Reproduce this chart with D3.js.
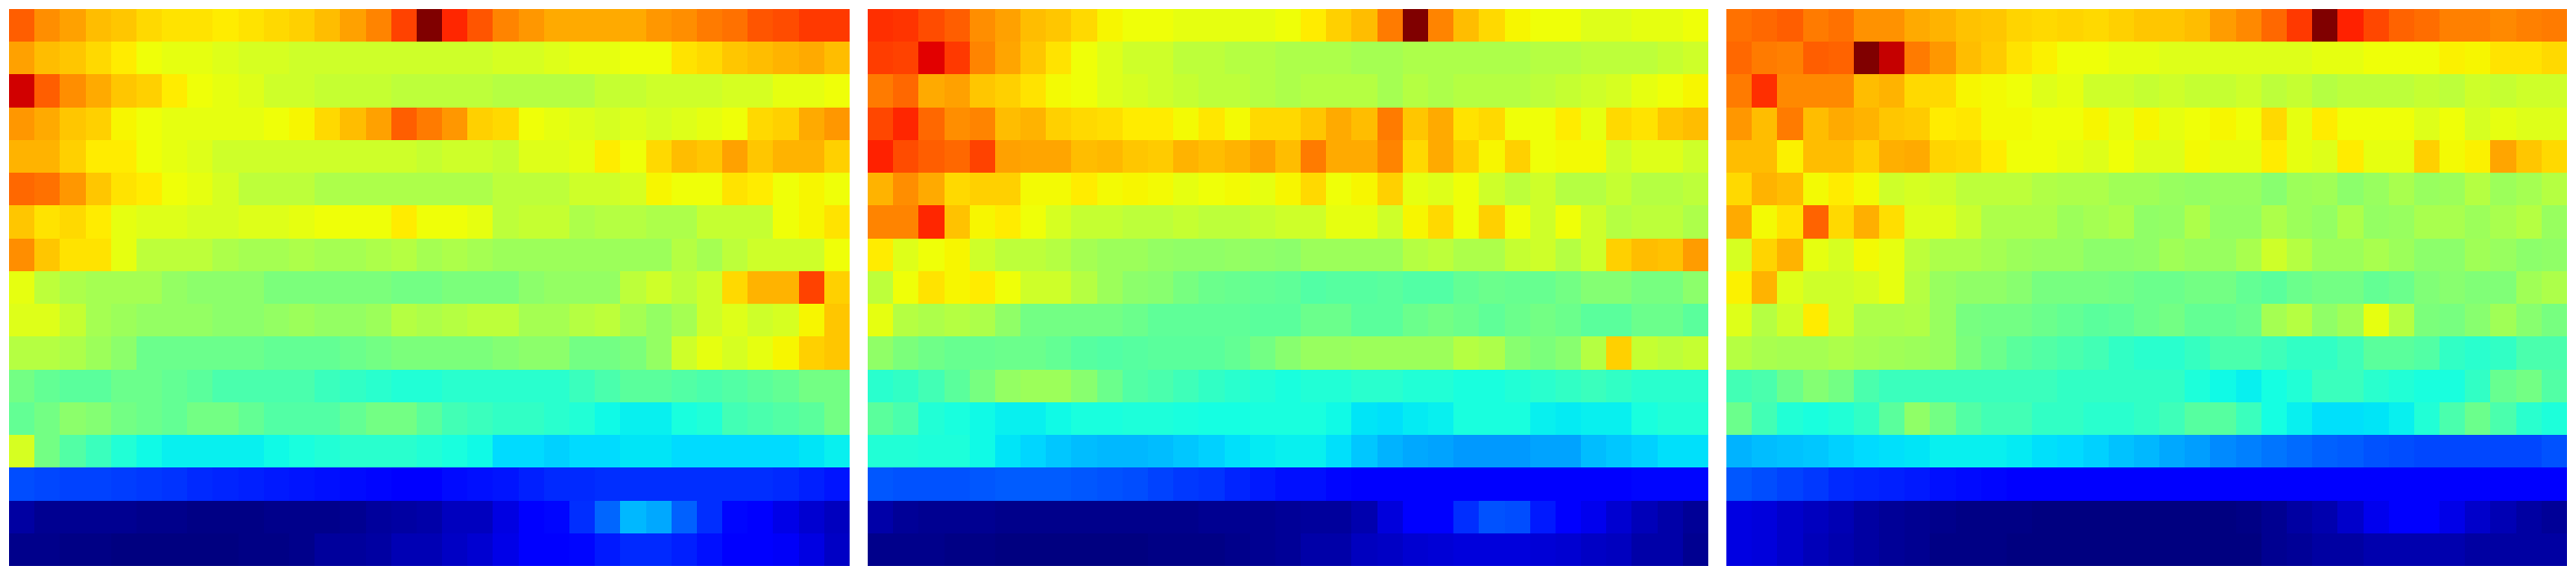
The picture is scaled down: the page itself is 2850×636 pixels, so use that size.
<!DOCTYPE html>
<html>
<head>
<meta charset="utf-8">
<script src="https://cdn.jsdelivr.net/npm/d3@7/dist/d3.min.js"></script>
<style>html,body{margin:0;padding:0;background:#fff}svg{display:block}</style>
</head>
<body>
<svg id="chart" width="2850" height="636"></svg>
<script>
const panelA = [
[81,76,74,71,70,68,67,67,66,67,68,69,71,74,77,84,100,87,82,77,75,73,73,73,73,75,76,78,79,82,83,85,85],
[74,71,70,68,66,64,63,63,62,61,61,60,60,60,60,60,60,60,60,61,61,62,63,63,64,64,67,68,70,71,72,73,71],
[93,81,76,73,70,69,66,64,63,62,60,60,59,59,59,58,58,58,58,57,57,57,57,59,59,60,60,60,61,61,63,63,64],
[75,73,70,69,65,64,63,63,63,63,64,65,68,71,74,81,78,75,69,68,64,63,62,61,62,61,62,63,64,68,69,73,75],
[72,72,69,66,66,64,63,62,60,60,60,60,60,60,60,60,59,60,60,59,62,62,63,66,64,68,71,70,74,70,72,72,69],
[80,79,75,70,67,66,64,63,61,58,58,58,56,56,56,56,56,56,56,58,58,58,60,60,61,65,64,64,67,66,64,65,64],
[70,67,68,66,63,62,62,61,61,62,62,63,64,64,64,66,64,64,63,58,59,59,56,57,57,56,56,59,59,59,64,65,67],
[76,70,67,67,63,58,58,58,56,55,55,56,55,55,56,57,55,56,55,54,54,54,54,54,54,54,57,55,58,60,60,60,64],
[63,58,56,55,55,55,53,52,52,52,50,50,50,50,50,49,49,50,50,50,52,53,53,53,58,60,58,60,68,72,72,84,69],
[62,62,59,55,54,53,53,53,52,52,53,54,53,53,54,57,56,57,58,58,55,55,57,58,55,53,55,60,62,60,61,65,70],
[57,57,56,54,52,48,48,48,48,48,47,47,47,48,49,50,50,50,50,51,52,52,49,49,50,53,60,63,61,63,65,69,70],
[49,47,46,46,48,48,47,46,44,44,44,44,42,41,40,39,39,40,40,40,40,40,42,44,46,46,45,44,45,46,47,49,49],
[47,49,52,51,49,48,47,49,49,47,45,45,45,47,49,49,46,43,42,41,41,40,39,37,36,36,38,39,43,44,45,46,49],
[61,49,45,42,39,37,36,36,36,36,37,38,39,40,40,40,39,38,37,34,34,33,34,34,35,35,34,34,34,34,34,35,36],
[20,19.5,19,19,18.5,18,17.5,16.5,16,15.5,15,14.5,14,13.5,13,12.5,12.5,13.5,14,14.5,15.5,16.5,16.5,17,17,17,17,17,17,17,16.5,15.5,14.5],
[3,1.5,1.5,1.5,1.5,1,1,0.5,0.5,0.5,1,1,1,1.5,2.5,3,3.5,5.5,5.5,8.5,11,13,17,22.5,30.5,29,22,17,13,11.5,9,7,5.5],
[1,1,0.5,0.5,0,0,0,0,0,0.5,0.5,1,2.5,2.5,3,4.5,4.5,6,7,9,11,12,13,15,16.5,16.5,15.5,14,12.5,12,10.5,8.5,6]
];
const panelB = [
[86,85.5,83,81,76,74,71,70,68,65,64,64,63,63,63,63,64,66,69,71,78,100,77,71,68,65,64,64,62,62,63,63,64],
[84.5,84,91.5,85,77,73.5,70,67,64,62,60,60,58,58,57,57,56,56,56,55,55,56,56,56,56,56,57,57,58,58,58,59,60],
[78,80,73,74,70,69,67,64.5,64,62,61,60,59,58,58,57,56,57,57,57,55,57,56,57,57,57,58,59,60,61,63,64,65],
[83.5,87,80,76,77,71,72,69,68,67.5,66,66,64.5,66.5,64.5,68,68,70,73,71,78,70,73,67,68,64,64,66,63,68,67,70,71],
[87.5,83,81,80,84,74,73.5,73.5,71,71.5,70,69.5,72,71,72,74,71,78,73,73,77,68,73,69,65,69,64,64.5,64.5,60,62,62,60],
[72,76,73,68,69,69,64.5,64.5,66,64.5,65,64.5,63,64,64.5,63,65,68,64,65,69,63,62,64,60,58,60,57,57,59,57,57,58],
[77,77,87,70.5,65,66,64,61,59,59,58,58,59,58,58,59,60,60,63,63,60,65,68,64,69,64,60,64,60,57,58,58,56],
[66,62,64,65,60,58,58,57,55,54,54,53,52.5,52.5,53,52.5,52,54,54,54,54,57,58,56,56,59,60,57,60,69,71,70.5,74.5],
[58,64,67,65,66,64,60,60,57,54,52,51.5,49.5,48,47.5,47,46.5,45,45.5,45.5,46,45,45,47,48,47.5,47.5,49,51,51,49.5,49.5,52],
[63,57,56,57,56,52.5,49,49,49,49,48,46.5,46.5,46.5,46.5,46,46,48,48,46,46,48,49,48,46.5,48,49,48,46,46,48,48,46],
[52.5,50,48.5,47.5,47.5,48,48,47,45.5,45,45.5,46,46,46,47,49,51.5,53.5,53.5,54,54,54,54,57,56,51.5,50,51.5,57,69,59,58,59],
[40,41,43,46,49.5,53,54,54,51.5,48,45,44,42.5,41,40,39,38,39,39,40,40,39,39,38,38,39,40,41,42,41,40,40,40],
[46,44,39,38,37,36,36,37,38,38,38.5,38.5,38,37.5,37.5,38,38,38,37,35,34.5,35.5,36,38,38,38,36,35.5,36,36,38,39,39],
[39,39,38.5,38.5,37,35,33.5,32,31,30.5,30.5,31,32,33,34.5,35.5,36,36,34.5,32,30,29,28.5,27.5,27.5,27.5,28.5,28.5,31,32,33,34.5,34.5],
[21,20.5,20.5,20.5,21,21.5,21.5,21.5,21,20.5,20,19,18,17.5,16,15,14,14,13,12.5,12,12,12,12,12,12,12,12,12,12.5,13,13,13],
[3.5,2,1.5,1.5,1.5,1,1,1,1,1,1,1,1,1.5,1.5,1.5,2,2.5,2.5,4,8,11,12,17,20.5,20,15,12,9.5,7,5,3.5,2],
[1,1,1,0.5,0.5,0,0,0,0,0,0,0.5,0.5,0.5,1,1.5,2,3.5,3.5,5.5,6,7,7.5,8,8,8,7.5,7,6,5.5,3.5,3.5,1.5]
];
const panelC = [
[79,80,81,78,79,75.5,75.5,73,72,70.5,70,68.5,68,68.5,68,69,70,70,71,74.5,76.5,80,85,100,87.5,83.5,80.5,79.5,77.5,77.5,76.5,77.5,78],
[80,78,77.5,81,80.5,100,94,78,75,71,69.5,67,65.5,64,64,63,63,62,62,62,62,62,62,63,63,64,64,64,65.5,65,67,67,68],
[78,86,76.5,76.5,76.5,71,72,68,68,65,64.5,64,62,63,60,60,59,60,59,59,60,58,59,57,58,58,58,59,58,60,59,60,60],
[75,71,78,71,73,72,70,69.5,66,66.5,64.5,64.5,64,64,65,63,65,63,64,65,64,68,63,66,64,64,64,62,64,61,63,62,62],
[71,71,65.5,71,71,69,72.5,73,68.5,68,66,64,64,63,62,64,62,62,64.5,63,63,66,63,62,66,63,63,69,64.5,65.5,73.5,70,68],
[68,72,71,64.5,66,64.5,60,61,60,58,58,58,56.5,56,56,54.5,54.5,53.5,53,53.5,53.5,51.5,54,54.5,52,53.5,55.5,53.5,54,57,54,55,57],
[73,64.5,67,80.5,68,72.5,67.5,62,62,59.5,56,56,56,54,55,56,52.5,53,56,53,53,56,54,53,56,53,53.5,55.5,55.5,54,55.5,57,53.5],
[61,68.5,72,63,61,64.5,63,58,56,56,55,54,53.5,53.5,52,52,52.5,54.5,53.5,53.5,55.5,60,57,54,54,55.5,54,52,52,54.5,53.5,52,52.5],
[65.5,72,62,60,60,61,63,57,53.5,52.5,52.5,51.5,49.5,49.5,49.5,49,48,48,49,49,47,46,48,49,49,47,48,50.5,51.5,50.5,50.5,54.5,56],
[62,57,60,66,60,56,56,56.5,53.5,49.5,49,49,48,47,46,46.5,48,49,47,47,48,55,57,52.5,54.5,63,57,50,49.5,51.5,54.5,51.5,49.5],
[57,55.5,55,55,56,55,54.5,54,53.5,50,48,46,45,44,43,41,40,40,41.5,44,44,42.5,41,41,42.5,46,46,45,41,40,41,44,44],
[43,44,48,51,49,44,42,42,42,42,42,42,42,41,41,41,41,41,38.5,37,36,37.5,39,42,42,40,39,38,38,41,47.5,49,45],
[48,43,39,38,39,41,46,52.5,49,45,43,43,41,41,40,40,41,42.5,45.5,45.5,42,37.5,36,34.5,34.5,35,36,39,44,48,44,40,38.5],
[30,31,31.5,32,33,34,34.5,35,36,36,36,35.5,34.5,34,33,31.5,30.5,29,28,26,25,24,23,22,21.5,20.5,20,19.5,19.5,19.5,19.5,19.5,20.5],
[21,20,19,18,16.5,16,15.5,15,14,13.5,13,12.5,12,12,12,12,12,12,12,12,12,12,12,12,12,12,12,12,12,12,12,12,12],
[8.5,8,6.5,5.5,4.5,3,2,1.5,1,0.5,0.5,0.5,0,0,0,0,0,0,0,0,0.5,1.5,3,4,6.5,9.5,11,11,9,6.5,4.5,3,2],
[8.5,8,6.5,5,4,3,2,1.5,0.5,0.5,0.5,0,0,0,0,0,0,0,0,0,0,1.5,2,3,3,4,4,4,4,3,3,3,3]
];
const panels = [panelA, panelB, panelC];

const width = 2850, height = 636, margin = 10, gap = 20;

// Matplotlib "jet" colormap, channel by channel
const jetR = d3.scaleLinear().domain([0, .35, .66, .89, 1]).range([0, 0, 1, 1, .5]);
const jetG = d3.scaleLinear().domain([0, .125, .375, .64, .91, 1]).range([0, 0, 1, 1, 0, 0]);
const jetB = d3.scaleLinear().domain([0, .11, .34, .65, 1]).range([.5, 1, 1, 0, 0]);
const toUnit = d3.scaleLinear().domain([0, 100]).range([0, 1]).clamp(true);
const color = v => {
  const t = toUnit(v);
  return d3.rgb(jetR(t) * 255, jetG(t) * 255, jetB(t) * 255).formatHex();
};

const svg = d3.select("#chart");
const panelX = d3.scaleBand().domain(d3.range(panels.length))
  .range([margin, width - margin]).paddingInner(gap / ((width - 2 * margin - 2 * gap) / 3 + gap)).paddingOuter(0);
const y = d3.scaleBand().domain(d3.range(panelA.length)).range([margin, height - margin]);

panels.forEach((rows, p) => {
  const x = d3.scaleBand().domain(d3.range(rows[0].length))
    .range([panelX(p), panelX(p) + panelX.bandwidth()]);
  const g = svg.append("g").attr("shape-rendering", "crispEdges");
  g.selectAll("g").data(rows).join("g")
    .selectAll("rect").data((row, r) => row.map((v, c) => ({ v, r, c }))).join("rect")
    .attr("x", d => Math.round(x(d.c)))
    .attr("y", d => Math.round(y(d.r)))
    .attr("width", d => Math.round(x(d.c) + x.bandwidth()) - Math.round(x(d.c)))
    .attr("height", d => Math.round(y(d.r) + y.bandwidth()) - Math.round(y(d.r)))
    .attr("fill", d => color(d.v));
});
</script>
</body>
</html>
